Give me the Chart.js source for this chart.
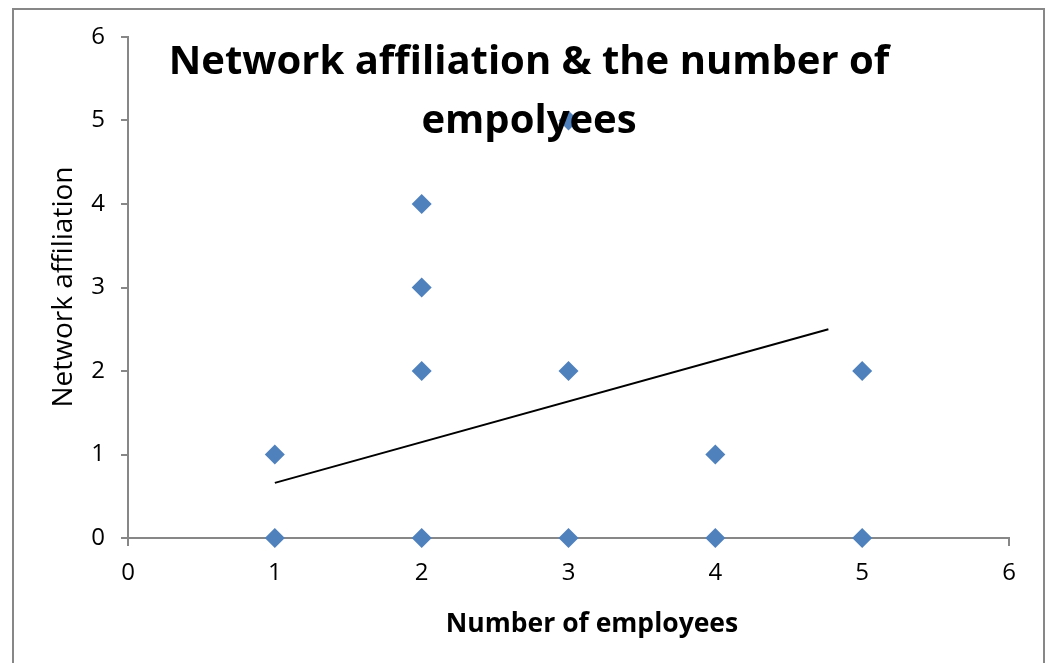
<!DOCTYPE html>
<html>
<head>
<meta charset="utf-8">
<script src="https://cdn.jsdelivr.net/npm/chart.js@4.4.1/dist/chart.umd.min.js"></script>
<style>
  html, body { margin: 0; padding: 0; background: #fff; }
  canvas { display: block; }
</style>
</head>
<body>
<canvas id="scatter" width="1051" height="663"></canvas>
<script>
// survey responses: employees vs. network affiliation
const employees   = [1, 1, 2, 2, 2, 2, 3, 3, 3, 4, 4, 5, 5];
const affiliation = [0, 1, 0, 2, 3, 4, 0, 2, 5, 0, 1, 0, 2];

// linear trendline end points
const trendX = [1, 4.77];
const trendY = [0.66, 2.5];

const axisTicks = [0, 1, 2, 3, 4, 5, 6];

const titleLines = ['Network affiliation & the number of', 'empolyees'];
const xAxisTitle = 'Number of employees';
const yAxisTitle = 'Network affiliation';

const FONT = '"Open Sans", sans-serif';
const AXIS_GREY = '#878787';

// chart frame, then the titles drawn on top of the plot
const overlayText = {
  id: 'overlayText',
  beforeDraw(chart) {
    const c = chart.ctx;
    c.save();
    c.strokeStyle = AXIS_GREY;
    c.lineWidth = 2;
    c.strokeRect(13, 9, 1031, 700);
    c.restore();
  },
  afterDatasetsDraw(chart) {
    const c = chart.ctx;
    c.save();
    c.fillStyle = '#000';
    c.textAlign = 'center';
    c.textBaseline = 'alphabetic';
    c.font = 'bold 40px ' + FONT;
    c.fillText(titleLines[0], 529, 74);
    c.fillText(titleLines[1], 529, 133);
    c.font = 'bold 26.5px ' + FONT;
    c.fillText(xAxisTitle, 592, 632);
    // rotated y title
    c.translate(72, 287);
    c.rotate(-Math.PI / 2);
    c.font = '28px ' + FONT;
    c.fillText(yAxisTitle, 0, 0);
    c.restore();
  }
};

const pts = employees.map((x, i) => ({ x: x, y: affiliation[i] }));
const trend = trendX.map((x, i) => ({ x: x, y: trendY[i] }));

new Chart(document.getElementById('scatter'), {
  type: 'scatter',
  data: {
    datasets: [
      {
        data: pts,
        clip: false,
        pointStyle: 'rectRot',
        pointRadius: 10,
        pointHoverRadius: 10,
        backgroundColor: '#4F81BD',
        borderColor: '#4F81BD',
        borderWidth: 0
      },
      {
        data: trend,
        showLine: true,
        pointRadius: 0,
        borderColor: '#000',
        borderWidth: 2
      }
    ]
  },
  options: {
    responsive: false,
    animation: false,
    layout: { padding: { left: 0, top: 37, right: 42, bottom: 0 } },
    plugins: {
      legend: { display: false },
      tooltip: { enabled: false }
    },
    scales: {
      x: {
        type: 'linear',
        min: axisTicks[0],
        max: axisTicks[axisTicks.length - 1],
        afterFit(s) { s.height = 125; },
        border: { color: AXIS_GREY, width: 2 },
        grid: { drawOnChartArea: false, color: AXIS_GREY, lineWidth: 2, tickLength: 8 },
        ticks: { stepSize: 1, padding: 13, color: '#000', font: { family: FONT, size: 24 } }
      },
      y: {
        type: 'linear',
        min: axisTicks[0],
        max: axisTicks[axisTicks.length - 1],
        afterFit(s) { s.width = 128; },
        border: { color: AXIS_GREY, width: 2 },
        grid: { drawOnChartArea: false, color: AXIS_GREY, lineWidth: 2, tickLength: 7 },
        ticks: { stepSize: 1, padding: 16, color: '#000', font: { family: FONT, size: 24 } }
      }
    }
  },
  plugins: [overlayText]
});
</script>
</body>
</html>
